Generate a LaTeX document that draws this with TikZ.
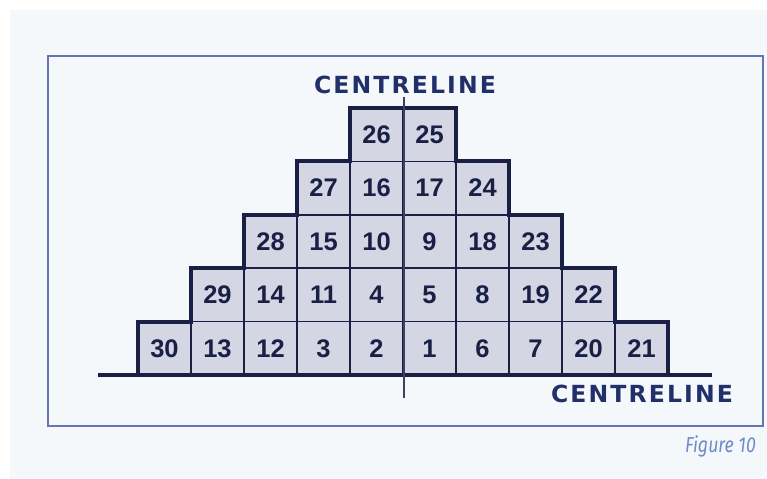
\documentclass[tikz,border=0pt]{standalone}
\usepackage{fontspec}
\setmainfont{Liberation Sans}
\newfontfamily\lblfont{DejaVu Sans}[LetterSpace=9]
\newfontfamily\capfont{Fira Sans}[FakeStretch=0.82]
\usepackage{tikz}
\usetikzlibrary{positioning}
\definecolor{cellfill}{HTML}{D4D6E3}
\definecolor{ink}{HTML}{1A1F45}
\definecolor{labelblue}{HTML}{22306A}
\definecolor{framecol}{HTML}{6674B2}
\definecolor{paper}{HTML}{F5F8FA}
\definecolor{capblue}{HTML}{6F8CC8}
\tikzset{
  cellbox/.style={draw=ink, line width=0.8pt, fill=cellfill, minimum width=1.06cm,
    minimum height=1.068cm, inner sep=0pt, outer sep=0pt,
    font=\bfseries\fontsize{14.5}{14.5}\selectfont, text=ink},
  clabel/.style={font=\lblfont\bfseries\fontsize{13.4}{14}\selectfont, text=labelblue, anchor=base},
}

\begin{document}
\begin{tikzpicture}[x=0.02cm,y=-0.02cm]

		\useasboundingbox (0,0) rectangle (767,479);
		\fill[paper] (10,10) rectangle (767,479);
		\draw[framecol,line width=0.8pt] (48,56) rectangle (763,426);

		\foreach \c/\t in {0/30,1/13,2/12,3/3,4/2,5/1,6/6,7/7,8/20,9/21}
		\node[cellbox] (n\t) at ({164.5+53*\c},348.3) {\t};

		\foreach \c/\t in {1/29,2/14,3/11,4/4,5/5,6/8,7/19,8/22}
		\node[cellbox] (n\t) at ({164.5+53*\c},294.9) {\t};

		\foreach \c/\t in {2/28,3/15,4/10,5/9,6/18,7/23}
		\node[cellbox] (n\t) at ({164.5+53*\c},241.5) {\t};

		\foreach \c/\t in {3/27,4/16,5/17,6/24}
		\node[cellbox] (n\t) at ({164.5+53*\c},188.1) {\t};

		\foreach \c/\t in {4/26,5/25}
		\node[cellbox] (n\t) at ({164.5+53*\c},134.7) {\t};

		\draw[ink,line width=2.2pt]
		(n30.south west) |- (n29.south west) |- (n28.south west)
		|- (n27.south west) |- (n26.south west) |- (n25.north east)
		|- (n24.north east) |- (n23.north east) |- (n22.north east)
		|- (n21.north east) -- (n21.south east);

		\coordinate (base-w) at (98,375);
		\coordinate (base-e) at (712,375);
		\draw[ink,line width=1.8pt] (base-w) -- (base-e);

		\coordinate (axis-n) at (404,97);
		\coordinate (axis-s) at (404,398);
		\draw[ink!85,line width=0.8pt] (axis-n) -- (axis-s);

		\node[clabel] (cl-top) at (405,94)
		{CENTRELINE};

		\node[clabel] (cl-bottom) at (642,402)
		{CENTRELINE};

		\node[font=\capfont\itshape\fontsize{12.3}{13}\selectfont, text=capblue, anchor=base east] (fig) at (762,452)
		{Figure 10};

	\end{tikzpicture}
\end{document}
